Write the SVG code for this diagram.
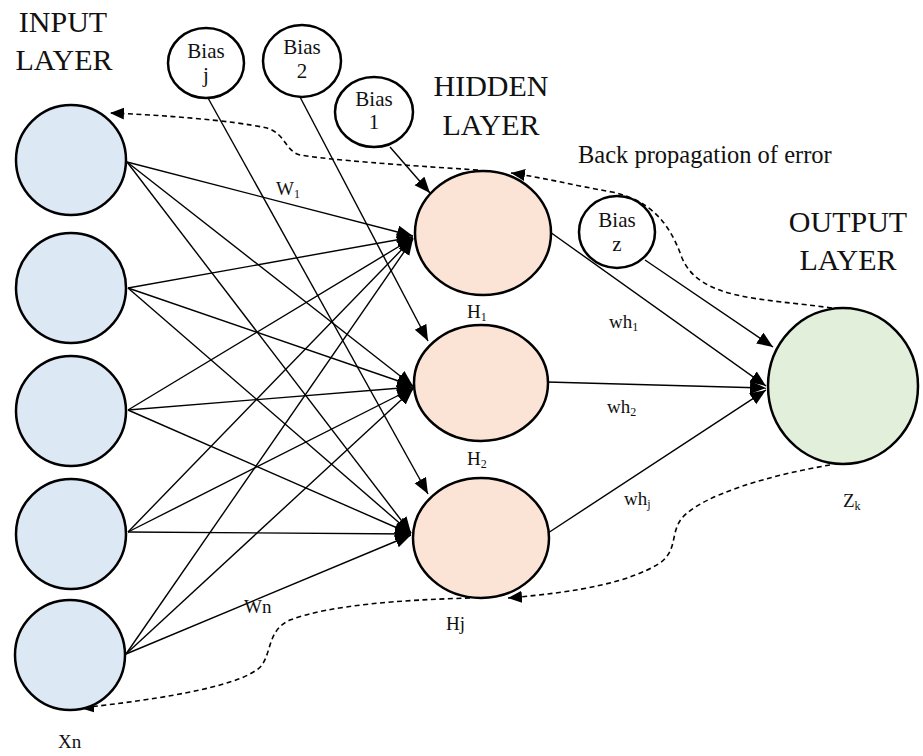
<svg xmlns="http://www.w3.org/2000/svg" width="923" height="756" viewBox="0 0 923 756" font-family="'Liberation Serif', 'DejaVu Serif', 'Times New Roman', serif">
<defs>
<marker id="ah" markerUnits="userSpaceOnUse" markerWidth="18" markerHeight="14" refX="16" refY="6.5" orient="auto"><path d="M0,0 L16,6.5 L0,13 z" fill="#000"/></marker>
<marker id="dh" markerUnits="userSpaceOnUse" markerWidth="16" markerHeight="14" refX="14" refY="6" orient="auto"><path d="M0,0 L14,6 L0,12 z" fill="#000"/></marker>
<style>
.in{fill:#dde8f5;stroke:#000;stroke-width:2.5}
.hid{fill:#fbe4d6;stroke:#000;stroke-width:2.5}
.out{fill:#e2efda;stroke:#000;stroke-width:2.5}
.bias{fill:#fff;stroke:#000;stroke-width:2.5}
.c line{stroke:#000;stroke-width:1.4;marker-end:url(#ah)}
.c path{fill:none;stroke:#000;stroke-width:1.6;stroke-dasharray:5 3.5;marker-end:url(#dh)}
text{font-family:'Liberation Serif','DejaVu Serif','Times New Roman',serif;fill:#111}
.title{font-size:30px;text-anchor:middle}
.bt{font-size:21px;text-anchor:middle}
.lb{font-size:19px}
.sub{font-size:12px}
</style>
</defs>
<rect width="923" height="756" fill="#fff"/>
<g class="c" id="connectors">
<line x1="127" y1="162" x2="413" y2="236"/>
<line x1="127" y1="162" x2="413" y2="386"/>
<line x1="127" y1="162" x2="411" y2="533"/>
<line x1="128" y1="288" x2="413" y2="237"/>
<line x1="128" y1="288" x2="413" y2="386"/>
<line x1="128" y1="288" x2="411" y2="533"/>
<line x1="128" y1="410" x2="413" y2="238"/>
<line x1="128" y1="410" x2="413" y2="387"/>
<line x1="128" y1="410" x2="411" y2="534"/>
<line x1="128" y1="532" x2="413" y2="238"/>
<line x1="128" y1="532" x2="413" y2="388"/>
<line x1="128" y1="532" x2="411" y2="534"/>
<line x1="126" y1="654" x2="413" y2="239"/>
<line x1="126" y1="654" x2="413" y2="389"/>
<line x1="126" y1="654" x2="411" y2="535"/>
<line x1="208" y1="98" x2="428" y2="494"/>
<line x1="300" y1="97" x2="428" y2="341"/>
<line x1="390" y1="147" x2="430" y2="193"/>
<line x1="645" y1="260" x2="773" y2="347"/>
<line x1="550" y1="232" x2="766" y2="386"/>
<line x1="547" y1="382" x2="766" y2="388"/>
<line x1="548" y1="533" x2="766" y2="390"/>
<path d="M832,308 C760,298 700,300 682,258 C670,224 652,201 612,192 C572,185 545,178 511,173"/>
<path d="M478,170 C400,165 330,160 300,155 C285,151 286,134 267,128 C230,120 160,115 110,113"/>
<path d="M830,465 C770,475 702,495 682,518 C670,533 678,550 660,563 C630,582 580,592 508,598"/>
<path d="M470,598 C400,600 330,605 290,620 C268,630 272,650 262,665 C250,680 200,695 80,708"/>
</g>
<g id="input1"><circle class="in" cx="71" cy="160" r="55"/></g>
<g id="input2"><circle class="in" cx="71" cy="288" r="55"/></g>
<g id="input3"><circle class="in" cx="71" cy="411" r="55"/></g>
<g id="input4"><circle class="in" cx="71" cy="534" r="55"/></g>
<g id="input5"><circle class="in" cx="70" cy="655" r="55"/></g>
<g id="hidden1"><ellipse class="hid" cx="483" cy="233" rx="68" ry="62"/></g>
<g id="hidden2"><ellipse class="hid" cx="481" cy="383" rx="67" ry="58"/></g>
<g id="hiddenj"><ellipse class="hid" cx="481" cy="538" rx="68" ry="60"/></g>
<g id="output"><ellipse class="out" cx="843" cy="386" rx="75" ry="78"/></g>
<g id="biasj"><ellipse class="bias" cx="206" cy="63" rx="38" ry="35"/><text class="bt" x="206" y="58">Bias</text><text class="bt" x="206" y="82">j</text></g>
<g id="bias2"><ellipse class="bias" cx="302" cy="61" rx="39" ry="36"/><text class="bt" x="302" y="54">Bias</text><text class="bt" x="302" y="78">2</text></g>
<g id="bias1"><ellipse class="bias" cx="374" cy="112" rx="39" ry="35"/><text class="bt" x="374" y="106">Bias</text><text class="bt" x="374" y="129">1</text></g>
<g id="biasz"><ellipse class="bias" cx="617" cy="232" rx="38" ry="36"/><text class="bt" x="617" y="227">Bias</text><text class="bt" x="617" y="251">z</text></g>
<g id="labels">
<text class="title" x="63" y="32">INPUT</text>
<text class="title" x="64" y="70">LAYER</text>
<text class="title" x="491" y="96">HIDDEN</text>
<text class="title" x="491" y="135">LAYER</text>
<text class="title" x="848" y="232">OUTPUT</text>
<text class="title" x="848" y="270">LAYER</text>
<text x="578" y="163" style="font-size:24.5px">Back propagation of error</text>
<text class="lb" x="276" y="195">W<tspan class="sub" dy="3">1</tspan></text>
<text class="lb" x="467" y="318">H<tspan class="sub" dy="3">1</tspan></text>
<text class="lb" x="609" y="328">wh<tspan class="sub" dy="3">1</tspan></text>
<text class="lb" x="607" y="413">wh<tspan class="sub" dy="3">2</tspan></text>
<text class="lb" x="467" y="465">H<tspan class="sub" dy="3">2</tspan></text>
<text class="lb" x="624" y="505">wh<tspan class="sub" dy="3">j</tspan></text>
<text class="lb" x="843" y="507">Z<tspan class="sub" dy="3">k</tspan></text>
<text class="lb" x="446" y="630">Hj</text>
<text class="lb" x="244" y="613">Wn</text>
<text class="lb" x="58" y="748">Xn</text>
</g>
</svg>
